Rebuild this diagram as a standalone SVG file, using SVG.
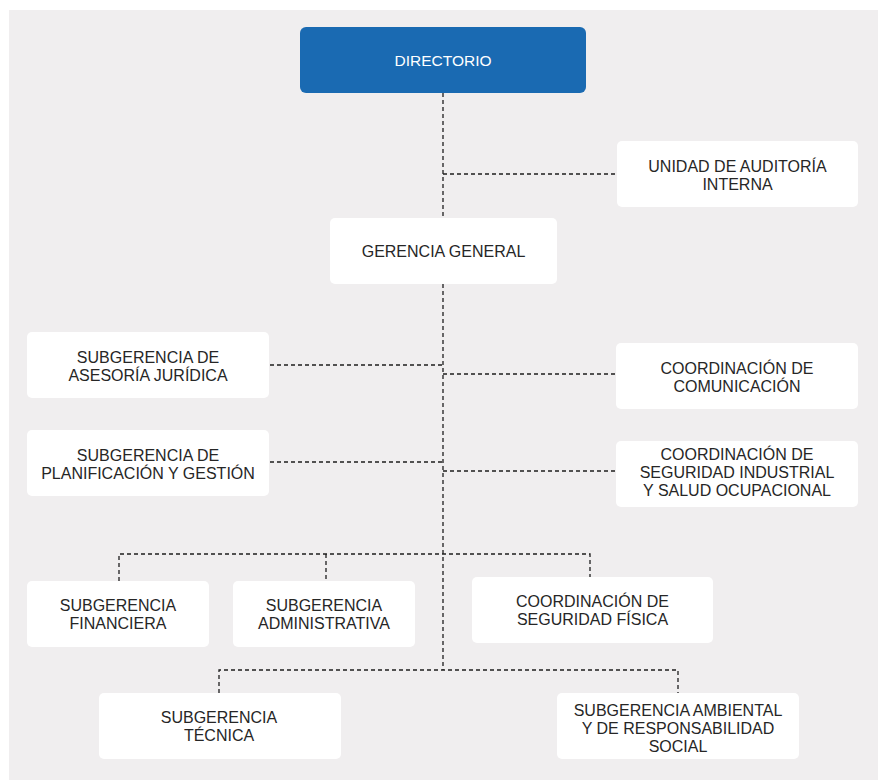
<svg xmlns="http://www.w3.org/2000/svg" width="878" height="780" viewBox="0 0 878 780">
  <style>
    .box { fill: #ffffff; }
    .lead { fill: #1a6ab2; }
    .lbl { font-family: "Liberation Sans", Arial, sans-serif; font-size: 16px; fill: #262626; text-anchor: middle; }
    .lbl-w { font-family: "Liberation Sans", Arial, sans-serif; font-size: 15.5px; fill: #ffffff; text-anchor: middle; }
    .dash { fill: none; stroke: #1e1e1e; stroke-width: 1.3; stroke-dasharray: 4 3; }
  </style>

  <!-- canvas -->
  <rect x="0" y="0" width="878" height="780" fill="#ffffff"/>
  <rect x="9" y="10" width="869" height="770" fill="#f0eeef"/>

  <!-- connectors -->
  <g id="connectors">
    <path class="dash" d="M443 93 V218"/>
    <path class="dash" d="M443 284 V670"/>
    <path class="dash" d="M443 174 H617"/>
    <path class="dash" d="M270 365 H443"/>
    <path class="dash" d="M443 374 H616"/>
    <path class="dash" d="M270 462 H443"/>
    <path class="dash" d="M443 471 H616"/>
    <path class="dash" d="M119 581 V554 H590 V577"/>
    <path class="dash" d="M326 554 V581"/>
    <path class="dash" d="M219 693 V670 H678 V693"/>
  </g>

  <g id="directorio">
    <rect class="lead" x="300" y="27" width="286" height="66" rx="6"/>
    <text class="lbl-w" x="443" y="66">DIRECTORIO</text>
  </g>

  <g id="auditoria">
    <rect class="box" x="617" y="141" width="241" height="66" rx="5"/>
    <text class="lbl" x="737.5" y="172">UNIDAD DE AUDITORÍA</text>
    <text class="lbl" x="737.5" y="190">INTERNA</text>
  </g>

  <g id="gerencia">
    <rect class="box" x="330" y="218" width="227" height="66" rx="5"/>
    <text class="lbl" x="443.5" y="257">GERENCIA GENERAL</text>
  </g>

  <g id="juridica">
    <rect class="box" x="27" y="332" width="242" height="66" rx="5"/>
    <text class="lbl" x="148" y="363">SUBGERENCIA DE</text>
    <text class="lbl" x="148" y="381">ASESORÍA JURÍDICA</text>
  </g>

  <g id="comunicacion">
    <rect class="box" x="616" y="343" width="242" height="66" rx="5"/>
    <text class="lbl" x="737" y="374">COORDINACIÓN DE</text>
    <text class="lbl" x="737" y="392">COMUNICACIÓN</text>
  </g>

  <g id="planificacion">
    <rect class="box" x="27" y="430" width="242" height="66" rx="5"/>
    <text class="lbl" x="148" y="461">SUBGERENCIA DE</text>
    <text class="lbl" x="148" y="479">PLANIFICACIÓN Y GESTIÓN</text>
  </g>

  <g id="seguridad-industrial">
    <rect class="box" x="616" y="441" width="242" height="66" rx="5"/>
    <text class="lbl" x="737" y="460">COORDINACIÓN DE</text>
    <text class="lbl" x="737" y="478">SEGURIDAD INDUSTRIAL</text>
    <text class="lbl" x="737" y="496">Y SALUD OCUPACIONAL</text>
  </g>

  <g id="financiera">
    <rect class="box" x="27" y="581" width="182" height="66" rx="5"/>
    <text class="lbl" x="118" y="611">SUBGERENCIA</text>
    <text class="lbl" x="118" y="629">FINANCIERA</text>
  </g>

  <g id="administrativa">
    <rect class="box" x="233" y="581" width="182" height="66" rx="5"/>
    <text class="lbl" x="324" y="611">SUBGERENCIA</text>
    <text class="lbl" x="324" y="629">ADMINISTRATIVA</text>
  </g>

  <g id="seguridad-fisica">
    <rect class="box" x="472" y="577" width="241" height="66" rx="5"/>
    <text class="lbl" x="592.5" y="607">COORDINACIÓN DE</text>
    <text class="lbl" x="592.5" y="625">SEGURIDAD FÍSICA</text>
  </g>

  <g id="tecnica">
    <rect class="box" x="99" y="693" width="242" height="66" rx="5"/>
    <text class="lbl" x="219" y="723">SUBGERENCIA</text>
    <text class="lbl" x="219" y="741">TÉCNICA</text>
  </g>

  <g id="ambiental">
    <rect class="box" x="557" y="693" width="242" height="66" rx="5"/>
    <text class="lbl" x="678" y="716">SUBGERENCIA AMBIENTAL</text>
    <text class="lbl" x="678" y="734">Y DE RESPONSABILIDAD</text>
    <text class="lbl" x="678" y="752">SOCIAL</text>
  </g>
</svg>
